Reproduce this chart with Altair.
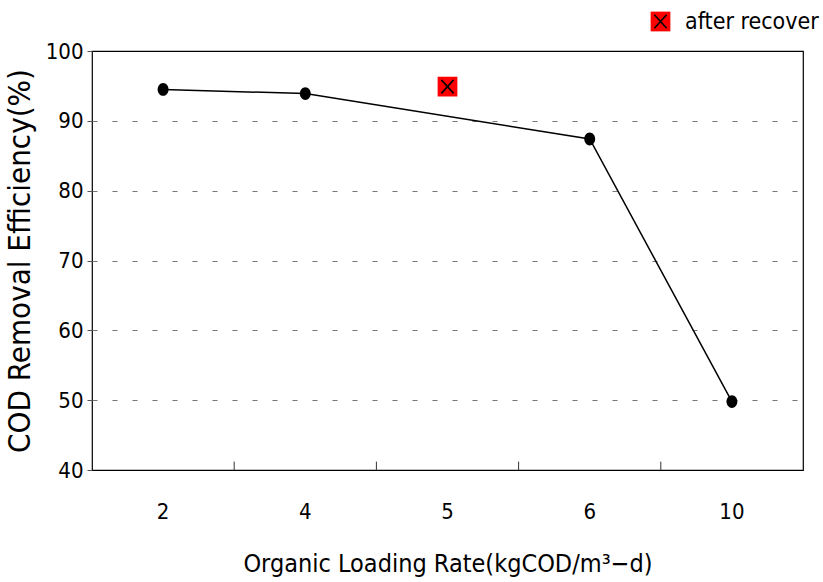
import altair as alt
import pandas as pd

x_cats = ["2", "4", "5", "6", "10"]
line_x = ["2", "4", "6", "10"]
line_y = [94.5, 93.9, 87.4, 49.8]
recover_x = ["5"]
recover_y = [94.9]
series_name = ["after recover"]
boundary_x = ["4", "5", "6", "10"]

FONT = "DejaVu Sans Condensed, Liberation Sans, sans-serif"

line_df = pd.DataFrame({"olr": line_x, "eff": line_y})
rec_df = pd.DataFrame({"olr": recover_x, "eff": recover_y, "series": series_name})
bnd_df = pd.DataFrame({"olr": boundary_x, "y0": [40] * 4, "y1": [41.2] * 4})

xscale = alt.Scale(domain=x_cats, paddingInner=0, paddingOuter=0)
yscale = alt.Scale(domain=[40, 100], nice=False, zero=False)

xenc = alt.X("olr:O", scale=xscale, sort=x_cats,
             axis=alt.Axis(title="Organic Loading Rate(kgCOD/m³−d)", labelAngle=0,
                           ticks=False, labelPadding=31, titlePadding=29,
                           labelFontSize=22, titleFontSize=25, domain=False))
yenc = alt.Y("eff:Q", scale=yscale,
             axis=alt.Axis(title="COD Removal Efficiency(%)", values=[40, 50, 60, 70, 80, 90, 100],
                           tickSize=5, tickColor="#555555", labelPadding=4, titlePadding=9,
                           labelFontSize=22, titleFontSize=31, grid=True,
                           gridOpacity={"condition": {"test": "datum.value == 40 || datum.value == 100",
                                                      "value": 0}, "value": 1},
                           gridDash=[5, 15], gridColor="#777777", gridWidth=1, domain=False))

line = alt.Chart(line_df).mark_line(color="black", strokeWidth=1.5).encode(x=xenc, y=yenc)
pts = alt.Chart(line_df).mark_point(filled=True, color="black", size=165, opacity=1,
                                    shape="M-0.85,0A0.85,1 0 1,0 0.85,0A0.85,1 0 1,0 -0.85,0Z").encode(
    x=alt.X("olr:O", scale=xscale, sort=x_cats), y=alt.Y("eff:Q", scale=yscale))

sq = alt.Chart(rec_df).mark_square(size=390, opacity=1).encode(
    x=alt.X("olr:O", scale=xscale, sort=x_cats), y=alt.Y("eff:Q", scale=yscale),
    color=alt.Color("series:N", scale=alt.Scale(domain=series_name, range=["#ff0000"]),
                    legend=alt.Legend(title=None, orient="none", legendX=557, legendY=-41,
                                      symbolType="square", symbolSize=390, symbolOpacity=1,
                                      labelFontSize=23, labelOffset=13, labelFont=FONT,
                                      labelColor="black", padding=0)))
XPATH = "M-1,-1.1L1,1.1M1,-1.1L-1,1.1"
xm = alt.Chart(rec_df).mark_point(filled=False, color="black", strokeWidth=1.6, size=150, opacity=1,
                                  shape=XPATH).encode(
    x=alt.X("olr:O", scale=xscale, sort=x_cats), y=alt.Y("eff:Q", scale=yscale),
    shape=alt.Shape("series:N", scale=alt.Scale(domain=series_name, range=[XPATH]),
                    legend=alt.Legend(title=None, orient="none", legendX=557, legendY=-41,
                                      symbolSize=150, symbolStrokeColor="black", symbolStrokeWidth=1.6,
                                      symbolFillColor="transparent", symbolOpacity=1,
                                      labelFontSize=23, labelOffset=13, labelFont=FONT,
                                      labelColor="transparent", padding=0)))

bticks = alt.Chart(bnd_df).mark_rule(color="#333333", strokeWidth=1).encode(
    x=alt.X("olr:O", scale=xscale, sort=x_cats, bandPosition=0),
    y=alt.Y("y0:Q", scale=yscale), y2="y1:Q")

chart = alt.layer(line, pts, bticks, sq, xm).resolve_legend(color="independent", shape="independent").properties(
    width=711, height=419,
    autosize=alt.AutoSizeParams(type="none"),
    padding={"left": 92, "top": 51, "right": 20, "bottom": 112},
).configure_view(stroke="black", strokeWidth=1.2).configure_axis(
    labelFont=FONT, titleFont=FONT, labelColor="black", titleColor="black",
    titleFontWeight="normal").configure_legend(labelFont=FONT)

chart.save("out.html", embed_options={"renderer": "svg", "actions": False})
